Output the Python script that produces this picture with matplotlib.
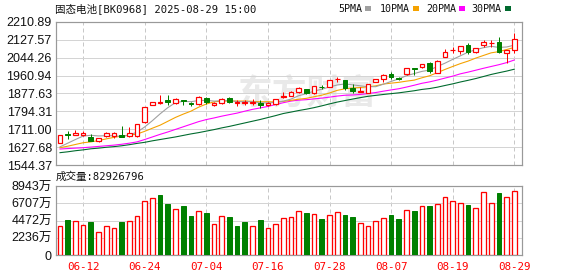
import numpy as np
import pandas as pd
import matplotlib
matplotlib.use('Agg')
import matplotlib.pyplot as plt
from matplotlib.patches import Rectangle

# ---- data ----
dates = pd.bdate_range('2025-06-09', '2025-08-29').strftime('%m-%d').tolist()

opens = [1649, 1690, 1685, 1684, 1676, 1656, 1680, 1679, 1683, 1680,
         1680, 1744, 1824, 1832, 1848, 1832, 1847, 1835, 1829, 1858,
         1823, 1832, 1858, 1834, 1834, 1835, 1835, 1826, 1828, 1860,
         1867, 1883, 1899, 1879, 1910, 1909, 1943, 1940, 1902, 1884,
         1881, 1932, 1944, 1968, 1950, 1967, 1995, 2000, 2021, 1974,
         2048, 2078, 2077, 2103, 2069, 2103, 2112, 2118, 2064, 2080]
closes = [1685, 1687, 1693, 1696, 1657, 1670, 1693, 1692, 1678, 1693,
          1735, 1814, 1838, 1836, 1837, 1851, 1845, 1829, 1863, 1840,
          1835, 1852, 1837, 1837, 1837, 1838, 1824, 1833, 1851, 1865,
          1886, 1902, 1879, 1912, 1908, 1940, 1946, 1905, 1889, 1887,
          1922, 1943, 1963, 1953, 1947, 1995, 1993, 2013, 1984, 2030,
          2072, 2081, 2096, 2069, 2087, 2118, 2114, 2069, 2080, 2129]
highs = [1686, 1705, 1708, 1705, 1688, 1672, 1700, 1698, 1727, 1721,
         1736, 1815, 1840, 1871, 1871, 1855, 1848, 1838, 1865, 1862,
         1838, 1856, 1860, 1848, 1846, 1852, 1848, 1836, 1853, 1883,
         1888, 1906, 1900, 1914, 1916, 1942, 1956, 1942, 1920, 1909,
         1923, 1946, 1966, 1976, 1955, 1996, 1996, 2015, 2025, 2032,
         2083, 2094, 2098, 2111, 2089, 2126, 2126, 2139, 2081, 2160]
lows = [1648, 1665, 1684, 1680, 1655, 1654, 1674, 1673, 1676, 1677,
        1674, 1742, 1822, 1830, 1824, 1828, 1824, 1818, 1826, 1828,
        1819, 1830, 1835, 1820, 1824, 1826, 1812, 1818, 1826, 1858,
        1865, 1880, 1876, 1876, 1900, 1907, 1932, 1894, 1881, 1883,
        1879, 1930, 1932, 1943, 1942, 1964, 1963, 1998, 1971, 1972,
        2045, 2064, 2061, 2061, 2066, 2095, 2095, 2064, 2018, 2067]

ma5 = [1630, 1647, 1664, 1680, 1683.6, 1680.6, 1681.8, 1681.6, 1678.0, 1685.2,
       1698.2, 1722.4, 1751.6, 1783.2, 1812.0, 1835.2, 1841.4, 1839.6, 1845.0, 1845.6,
       1842.4, 1843.8, 1845.4, 1840.2, 1839.6, 1840.2, 1834.6, 1833.8, 1836.6, 1842.2,
       1851.8, 1867.4, 1876.6, 1888.8, 1897.4, 1908.2, 1917.0, 1922.2, 1917.6, 1913.4,
       1909.8, 1909.2, 1920.8, 1933.6, 1945.6, 1960.2, 1970.2, 1980.2, 1986.4, 2003.0,
       2018.4, 2036.0, 2052.6, 2069.6, 2081.0, 2090.2, 2096.8, 2091.4, 2093.6, 2102.0]
ma10 = [1626, 1633, 1641, 1649, 1653, 1659, 1667, 1674, 1680, 1684.4,
        1689.4, 1702.1, 1716.6, 1730.6, 1748.6, 1766.7, 1781.9, 1795.6, 1814.1, 1828.8,
        1838.8, 1842.6, 1842.5, 1842.6, 1842.6, 1841.3, 1839.2, 1839.6, 1838.4, 1840.9,
        1846.0, 1851.0, 1855.2, 1862.7, 1869.8, 1880.0, 1892.2, 1899.4, 1903.2, 1905.4,
        1909.0, 1913.1, 1921.5, 1925.6, 1929.5, 1935.0, 1939.7, 1950.5, 1960.0, 1974.3,
        1989.3, 2003.1, 2016.4, 2028.0, 2042.0, 2054.3, 2066.4, 2072.0, 2081.6, 2091.5]
ma20 = [1620, 1622, 1624, 1626, 1629, 1632, 1635, 1638, 1642, 1647,
        1653, 1664, 1676, 1688, 1699, 1711, 1723, 1735, 1747, 1756.6,
        1764.1, 1772.4, 1779.6, 1786.6, 1795.6, 1804.0, 1810.6, 1817.6, 1826.3, 1834.9,
        1842.4, 1846.8, 1848.9, 1852.7, 1856.2, 1860.7, 1865.7, 1869.5, 1870.8, 1873.2,
        1877.5, 1882.1, 1888.4, 1894.2, 1899.7, 1907.5, 1916.0, 1925.0, 1931.6, 1939.9,
        1949.2, 1958.2, 1969.0, 1976.9, 1985.8, 1994.7, 2003.1, 2011.3, 2020.9, 2033.0]
ma30 = [1603, 1607, 1612, 1616, 1621, 1624, 1628, 1631, 1635, 1640,
        1646, 1651, 1658, 1664, 1670, 1676, 1683, 1690, 1696, 1703,
        1710, 1718, 1725, 1733, 1741, 1749, 1757, 1766, 1775, 1784.7,
        1791.4, 1798.6, 1804.8, 1812.0, 1820.3, 1829.3, 1837.8, 1844.9, 1851.9, 1858.4,
        1864.6, 1868.9, 1873.1, 1877.0, 1880.7, 1885.5, 1890.4, 1896.5, 1900.6, 1906.9,
        1914.8, 1922.4, 1931.1, 1938.8, 1947.1, 1956.5, 1966.1, 1974.0, 1981.6, 1990.4]

# volume in 万
volume = [3758, 4536, 4406, 3845, 4320, 2981, 3758, 3456, 4320, 4406,
          5054, 6998, 7344, 7776, 6610, 5962, 6350, 5054, 5702, 5486,
          4018, 5054, 4925, 3758, 4320, 3758, 4536, 3456, 3974, 4752,
          4882, 5702, 5486, 5314, 4666, 5141, 5573, 5141, 4925, 4104,
          3758, 4406, 4752, 5141, 4666, 5789, 5702, 6307, 6350, 6566,
          7560, 6955, 6696, 6480, 6048, 8230, 6696, 7992, 7474, 8292.68]
vol_up = [1, 0, 1, 1, 0, 1, 1, 1, 0, 1,
          1, 1, 1, 0, 0, 1, 0, 0, 1, 0,
          1, 1, 0, 0, 0, 1, 0, 1, 1, 1,
          1, 1, 0, 1, 0, 1, 1, 0, 0, 1,
          1, 1, 1, 0, 0, 1, 0, 1, 0, 1,
          1, 1, 1, 0, 1, 1, 1, 0, 1, 1]

price_lo, price_hi = 1544.37, 2210.89
price_labels = ['1544.37', '1627.68', '1711.00', '1794.31', '1877.63',
                '1960.94', '2044.26', '2127.57', '2210.89']
vol_max = 8943
vol_labels = ['0', '2236万', '4472万', '6707万', '8943万']
title = '固态电池[BK0968] 2025-08-29 15:00'
vol_title = '成交量:82926796'
ma_names = ['5PMA', '10PMA', '20PMA', '30PMA']

# ---- style ----
RED = '#ff0000'
GREEN = '#008000'
MA_COLORS = ['#a0a0a0', '#f5a200', '#ff00ff', '#006a2e']
GRID = '#d4d4d4'
FRAME = '#999999'
PX = 72 / 100.0  # points per pixel
MONO = ['DejaVu Sans Mono', 'Noto Sans CJK SC']
NUM = ['Liberation Sans', 'Noto Sans CJK SC']

W, H = 578, 276
fig = plt.figure(figsize=(W / 100, H / 100), dpi=100)
ax = fig.add_axes([56 / W, 1 - 165.3 / H, 466 / W, 143.6 / H])
axv = fig.add_axes([56 / W, 1 - 255 / H, 466 / W, 69 / H])

o = np.array(opens, float)
c = np.array(closes, float)
h = np.array(highs, float)
l = np.array(lows, float)
x = np.arange(len(c))
up = c >= o
body_lo = np.minimum(o, c)
body_hi = np.maximum(o, c)
body_h = np.maximum(body_hi - body_lo, 0.6)
tick_idx = np.arange(3, len(dates), 8)

for a in (ax, axv):
    a.set_xlim(-0.52, 60.0)
    for s in a.spines.values():
        s.set_color(FRAME)
        s.set_linewidth(1.2 * PX)
    for t in tick_idx:
        a.axvline(t, color='#c8c8c8', lw=1 * PX, ls=(0, (4, 3)), zorder=0)
    a.tick_params(length=0)

# watermark
ax.text(0.54, 0.50, '东方财富', transform=ax.transAxes, fontsize=25,
        fontweight='bold', family='Noto Sans CJK SC', color='#e9e9e9',
        ha='center', va='center', zorder=0)

# price panel
ticks = np.linspace(price_lo, price_hi, 9)
ax.set_ylim(price_lo, price_hi)
ax.set_yticks(ticks)
ax.set_yticklabels(price_labels, family=NUM, fontsize=9, color='#111111')
for t in ticks:
    ax.axhline(t, color=GRID, lw=1 * PX, zorder=0)
ax.set_xticks([])
ax.tick_params(axis='y', pad=3)

for ma, col in zip([ma30, ma20, ma10, ma5], MA_COLORS[::-1]):
    ax.plot(x, ma, color=col, lw=1.1 * PX, zorder=2)

cols = np.where(up, RED, GREEN)
ax.vlines(x, l, body_lo, color=cols, lw=1 * PX, zorder=3)
ax.vlines(x, body_hi, h, color=cols, lw=1 * PX, zorder=3)
ax.bar(x[up], body_h[up], bottom=body_lo[up], width=0.62, facecolor='white',
       edgecolor=RED, linewidth=1.2 * PX, zorder=4)
ax.bar(x[~up], body_h[~up], bottom=body_lo[~up], width=0.62, facecolor=GREEN,
       edgecolor=GREEN, linewidth=1 * PX, zorder=4)

# volume panel
v = np.array(volume, float)
vu = np.array(vol_up, bool)
axv.set_ylim(0, vol_max)
vt = np.linspace(0, vol_max, 5)
axv.set_yticks(vt)
axv.set_yticklabels(vol_labels, family=NUM, fontsize=9, color='#111111')
for t in vt:
    axv.axhline(t, color=GRID, lw=1 * PX, zorder=0)
axv.bar(x[vu], v[vu], width=0.6, facecolor='white', edgecolor=RED,
        linewidth=1.3 * PX, zorder=3)
axv.bar(x[~vu], v[~vu], width=0.6, facecolor=GREEN, edgecolor=GREEN,
        linewidth=1 * PX, zorder=3)
axv.set_xticks(tick_idx)
axv.set_xticklabels([dates[i] for i in tick_idx], family=MONO, fontsize=7.8,
                    color=RED)
axv.tick_params(axis='x', pad=5)
axv.tick_params(axis='y', pad=3)

# texts on top
fig.text(55 / W, 1 - 8.5 / H, title, family=MONO, fontsize=7.6,
         color='#111111', va='center', ha='left')
fig.text(56 / W, 1 - 177 / H, vol_title, family=MONO, fontsize=7.6,
         color='#111111', va='center', ha='left')

leg_x = [338, 380, 426, 471.7]
sq_x = [365, 412.7, 459.3, 505]
for name, lx, sx, col in zip(ma_names, leg_x, sq_x, MA_COLORS):
    fig.text(lx / W, 1 - 8.5 / H, name, family=MONO, fontsize=7.2,
             color='#111111', va='center', ha='left')
    fig.patches.append(Rectangle((sx / W, 1 - 10.5 / H), 6 / W, 4.5 / H,
                                 transform=fig.transFigure, facecolor=col,
                                 edgecolor='none'))

fig.savefig('out.png', dpi=100)
